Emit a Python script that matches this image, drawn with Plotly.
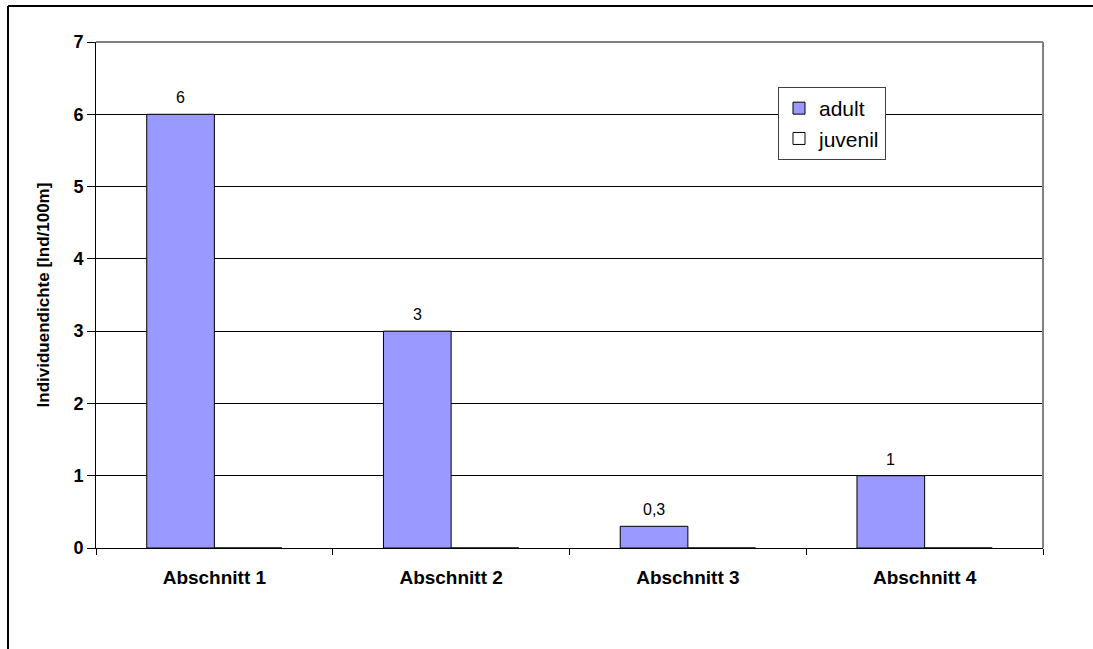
import plotly.graph_objects as go

categories = ["Abschnitt 1", "Abschnitt 2", "Abschnitt 3", "Abschnitt 4"]
adult = [6, 3, 0.3, 1]
juvenil = [0, 0, 0, 0]
y_ticks = [0, 1, 2, 3, 4, 5, 6, 7]

FONT = "Liberation Sans, Arial, sans-serif"

W, H = 1093, 649
L, R, T, B = 96, 50, 42, 101
pw, ph = W - L - R, H - T - B
bar_w = pw / 4 / 3.5

fig = go.Figure()
fig.add_trace(go.Bar(
    name="adult", x=categories, y=adult,
    marker=dict(color="#9999FF", line=dict(color="black", width=1)),
))
fig.add_trace(go.Bar(
    name="juvenil", x=categories, y=juvenil,
    marker=dict(color="white", line=dict(color="black", width=1)),
))

annotations = []
for c, v in zip(categories, adult):
    annotations.append(dict(
        x=c, y=v, xref="x", yref="y", text=f"{v:g}".replace(".", ","),
        showarrow=False, yanchor="bottom", xanchor="center",
        xshift=-bar_w / 2, yshift=6,
        font=dict(family=FONT, size=16, color="black"),
    ))

frame_left = (8 - L) / pw
frame_top = 1 + (T - 6) / ph
shapes = [
    # outer chart frame: only top and left edges fall inside the page
    dict(type="line", xref="paper", yref="paper",
         x0=frame_left, x1=(W - L) / pw, y0=frame_top, y1=frame_top,
         line=dict(color="black", width=2)),
    dict(type="line", xref="paper", yref="paper",
         x0=frame_left, x1=frame_left, y0=-B / ph, y1=frame_top,
         line=dict(color="black", width=2)),
    # plot-area border top & right (gray)
    dict(type="line", xref="paper", yref="paper", x0=0, x1=1, y0=1, y1=1,
         line=dict(color="#808080", width=2)),
    dict(type="line", xref="paper", yref="paper", x0=1, x1=1, y0=0, y1=1,
         line=dict(color="#808080", width=2)),
]

fig.update_layout(
    width=W, height=H,
    margin=dict(l=L, r=R, t=T, b=B),
    paper_bgcolor="white", plot_bgcolor="white",
    barmode="group", bargap=1.5 / 3.5, bargroupgap=0,
    font=dict(family=FONT, color="black"),
    showlegend=True,
    legend=dict(
        x=(778 - L) / pw, y=(H - B - 87) / ph, xanchor="left", yanchor="top",
        bgcolor="white", bordercolor="#404040", borderwidth=1,
        font=dict(family=FONT, size=21, color="black"),
        tracegroupgap=0, itemwidth=30,
    ),
    annotations=annotations,
    shapes=shapes,
)
fig.update_xaxes(
    showline=True, linecolor="black", linewidth=1,
    ticks="outside", ticklen=6, tickcolor="black", tickson="boundaries",
    tickfont=dict(family=FONT, size=19, color="black", weight="bold"),
    ticklabelstandoff=12, showgrid=False,
)
fig.update_yaxes(
    range=[0, 7], tickvals=y_ticks,
    showline=True, linecolor="black", linewidth=1,
    ticks="outside", ticklen=8, tickcolor="black",
    showgrid=True, gridcolor="black", gridwidth=1,
    zeroline=False,
    tickfont=dict(family=FONT, size=18, color="black", weight="bold"),
    title=dict(text="Individuendichte [Ind/100m]", standoff=19,
               font=dict(family=FONT, size=17, color="black", weight="bold")),
)

fig.write_html("out.html", config={"displayModeBar": False})
